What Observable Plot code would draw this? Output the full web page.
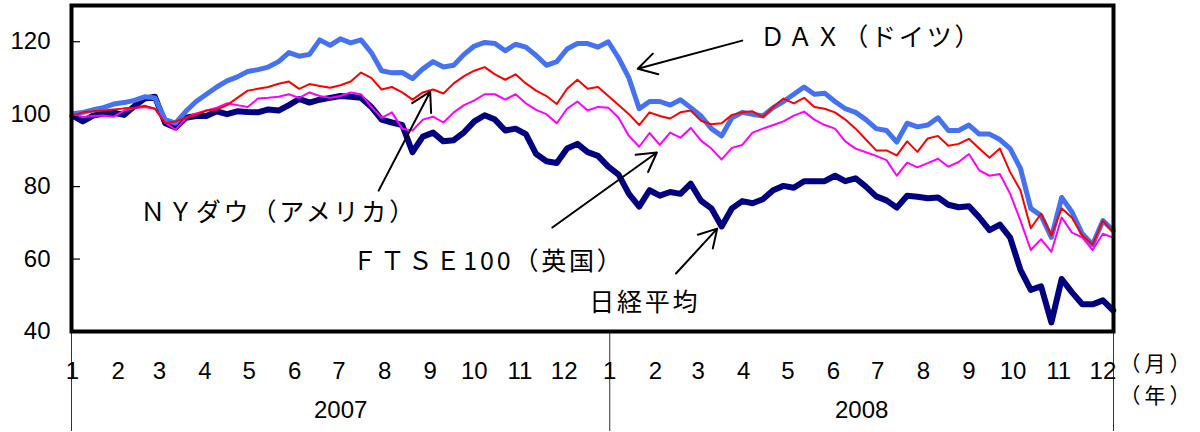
<!DOCTYPE html>
<html>
<head>
<meta charset="utf-8">
<script src="https://cdn.jsdelivr.net/npm/d3@7"></script>
<script src="https://cdn.jsdelivr.net/npm/@observablehq/plot@0.6"></script>
<style>
  body { margin: 0; background: #fff; }
</style>
</head>
<body>
<div id="chart"></div>
<script>
// weekly observation dates (Mondays), Jan 2007 – early Dec 2008, index = 100 at start
const firstWeek = "2007-01-01";
const lastWeekStop = "2008-12-09";
const weeks = d3.utcMonday.range(new Date(firstWeek), new Date(lastWeekStop));

const nikkei = [
  99.6, 98, 99.6, 100.2, 100.4, 99.8, 102.2, 104.3, 104.8, 97.5,
  96.3, 99, 99.5, 99.5, 100.8, 100, 100.8, 100.6, 100.5, 101.3,
  101, 102.5, 104.2, 103.2, 104, 104.5, 105, 104.8, 104.5, 102,
  98.5, 97.7, 97, 89.5, 93.8, 94.9, 92.5, 92.8, 95, 98,
  99.7, 98.5, 95.5, 96, 94.5, 89, 87, 86.5, 90.5, 91.8,
  89.5, 88.5, 85.5, 83.3, 78, 74.5, 79, 77.5, 78.5, 78,
  80.8, 76.1, 74, 69, 74, 76, 75.4, 76.5, 79, 80.2,
  79.7, 81.5, 81.5, 81.5, 83, 81.5, 82.3, 80, 77.3, 76.2,
  74.2, 77.5, 77.2, 76.8, 77, 75, 74.3, 74.6, 71.5, 68,
  69.5, 65.9, 57, 51.5, 52.5, 42.5, 54.5, 50.8, 47.5, 47.5, 48.6, 45.8
];
const dax = [
  100.1, 100.5, 101.2, 101.8, 102.8, 103.2, 103.8, 104.8, 104.5, 98.5,
  97.5, 100.8, 103.5, 105.5, 107.5, 109.2, 110.3, 111.8, 112.3, 113,
  114.5, 117, 116, 116.5, 120.5, 119, 120.8, 119.7, 120.5, 117,
  112, 111.4, 111.5, 109.8, 112.5, 114.5, 113, 113.5, 116.5, 118.8,
  119.8, 119.5, 117.5, 119.3, 118.5, 116.2, 113.5, 114.5, 118, 119.5,
  119.5, 118.5, 120, 115.5, 110, 101.5, 103.5, 103.5, 102.5, 104,
  101.8, 99.5, 96, 94, 99, 100.5, 100, 99.5, 101.8, 103.5,
  105.5, 107.5, 105.5, 105.8, 103.5, 101.5, 100.5, 98.5, 96, 95.5,
  92.3, 97.5, 96.5, 97, 99, 95.5, 95.5, 97, 94.5, 94.5,
  93, 90.5, 85, 74, 72, 66, 77, 73, 67, 64, 70.6, 67.9
];
const ftse = [
  100.1, 99.2, 99.5, 99.6, 99.3, 101, 101.6, 102, 101.5, 97.7,
  95.7, 99, 100.2, 101, 101.8, 103, 102.5, 102, 104.3, 104.5,
  104.8, 105.5, 104.5, 106, 105, 104.5, 105, 106, 105.5, 102,
  99, 100.5, 96, 95.5, 98.5, 99.3, 97.7, 100.5, 102.5, 103.8,
  105.5, 105.5, 104, 105.5, 103, 101.2, 100, 97.5, 101.5, 103.5,
  101, 102, 101.8, 99, 94, 91, 94.8, 91.5, 94.9, 93.5,
  96.2, 92.7, 90.5, 87.5, 90.7, 91.5, 94.9, 96, 97, 98,
  99.6, 100.7, 98.5, 97, 96, 92.5, 90.5, 89.5, 88.5, 87.3,
  83, 86.6, 85.3, 86.5, 87.7, 85.5, 86.8, 89, 84.5, 83,
  83.5, 78, 70.6, 62.5, 65.5, 62, 71.5, 67.3, 66, 62.5, 67, 65.9
];
const dow = [
  99.6, 100.5, 100.8, 101, 101.3, 101.6, 101.8, 102.3, 101.5, 97.5,
  98, 99, 99.8, 101, 101.3, 102.5, 104.5, 106.5, 107, 107.5,
  108.4, 109, 107, 108.3, 107.8, 107.3, 108, 109, 111.5, 110,
  106.8, 107.5, 106, 104, 106, 106.8, 105.7, 108.5, 110.5, 112,
  113, 111, 109.5, 111, 108.5, 106.5, 105, 102.8, 107, 109.5,
  107, 107.5, 105, 102.5, 100, 97, 100.5, 99.5, 98.8, 100.5,
  101, 98.2, 97.2, 97.5, 99.8, 100.5, 100.8, 99.2, 102, 104.3,
  103, 104.5, 102, 101.5, 100.5, 98.5, 96, 93, 90, 90,
  88.6, 92.5, 89.6, 93.3, 94, 91.3, 91.8, 93.2, 90.5, 88,
  90.5, 84, 79, 68.5, 72.5, 66.5, 74, 71.4, 66.5, 64, 70.6, 67.3
];

const yTicks = [40, 60, 80, 100, 120];
const years = ["2007", "2008"];
const unitLabels = ["（月）", "（年）"];

// annotation labels
const labelText = ["ＤＡＸ（ドイツ）", "ＮＹダウ（アメリカ）", "ＦＴＳＥ100（英国）", "日経平均"];
const labelDate = ["2008-04-12", "2007-02-16", "2007-07-10", "2007-12-18"];
const labelValue = [121.1, 72.8, 59.3, 48.0];

// annotation arrows (tail -> head)
const arrowFromDate = ["2008-03-31", "2007-07-28", "2007-11-23", "2008-02-15"];
const arrowFromValue = [120.3, 78.9, 68.7, 56.0];
const arrowToDate = ["2008-01-20", "2007-09-01", "2008-02-02", "2008-03-14"];
const arrowToValue = [112.55, 106.2, 89.4, 68.4];

const xStart = new Date(Date.UTC(2006, 11, 31, 8));
const xEnd = new Date(Date.UTC(2008, 11, 8, 5));
const yearBreak = new Date(Date.UTC(2008, 0, 1));
const yearBounds = [xStart, yearBreak, xEnd];
const yearMid = years.map((y, i) => new Date((+yearBounds[i] + +yearBounds[i + 1]) / 2));

const rowsOf = (vals) => weeks.map((d, i) => ({date: d, value: vals[i]}));
const labels = labelText.map((t, i) => ({text: t, date: new Date(labelDate[i]), value: labelValue[i]}));
const arrows = arrowFromDate.map((d, i) => ({
  x1: new Date(d), y1: arrowFromValue[i], x2: new Date(arrowToDate[i]), y2: arrowToValue[i]
}));

const CJK = "'Noto Sans CJK JP', 'Noto Sans', sans-serif";

const chart = Plot.plot({
  width: 1200,
  height: 432,
  marginTop: 5,
  marginRight: 87,
  marginBottom: 101,
  marginLeft: 71,
  style: {fontFamily: "'Liberation Sans', Arial, sans-serif", fontSize: "24px", background: "#fff", color: "#000"},
  x: {type: "utc", domain: [xStart, xEnd]},
  y: {domain: [40, 130]},
  marks: [
    Plot.ruleX(yearBounds, {y1: 40, y2: 40, insetBottom: -100, stroke: "#333", strokeWidth: 1}),
    Plot.axisY({ticks: yTicks, tickSize: 0, tickPadding: 21, fontSize: 24, label: null}),
    Plot.axisY({ticks: yTicks, tickSize: 9, dx: 9, tickFormat: () => "", label: null, strokeWidth: 1.2}),
    Plot.axisX({ticks: d3.utcMonth.range(xStart, xEnd), tickSize: 0, tickPadding: 30,
      tickFormat: (d) => String(d.getUTCMonth() + 1), fontSize: 24, label: null}),
    Plot.lineY(rowsOf(nikkei), {x: "date", y: "value", stroke: "#000080", strokeWidth: 6, strokeLinejoin: "round"}),
    Plot.lineY(rowsOf(dax), {x: "date", y: "value", stroke: "#4472F2", strokeWidth: 5, strokeLinejoin: "round"}),
    Plot.lineY(rowsOf(ftse), {x: "date", y: "value", stroke: "#FF00FF", strokeWidth: 2}),
    Plot.lineY(rowsOf(dow), {x: "date", y: "value", stroke: "#FF0000", strokeWidth: 2}),
    Plot.frame({stroke: "#000", strokeWidth: 4}),
    Plot.arrow(arrows, {x1: "x1", y1: "y1", x2: "x2", y2: "y2", stroke: "#000", strokeWidth: 2, headLength: 16}),
    Plot.text(labels, {x: "date", y: "value", text: "text", textAnchor: "start", fontFamily: CJK, fontSize: 25}),
    Plot.text(years, {x: (d, i) => yearMid[i], text: (d) => d, frameAnchor: "bottom", dy: 86, fontSize: 24}),
    Plot.text([unitLabels[0]], {frameAnchor: "bottom-right", textAnchor: "start", dx: 6, dy: 39, fontFamily: CJK, fontSize: 21}),
    Plot.text([unitLabels[1]], {frameAnchor: "bottom-right", textAnchor: "start", dx: 6, dy: 71, fontFamily: CJK, fontSize: 21})
  ]
});

d3.select(chart).selectAll("g[font-family*='Noto Sans CJK'][font-size='25']").attr("letter-spacing", 2.8);
d3.select(chart).selectAll("g[font-family*='Noto Sans CJK'][font-size='21']").attr("letter-spacing", 4);
document.getElementById("chart").appendChild(chart);
</script>
</body>
</html>
